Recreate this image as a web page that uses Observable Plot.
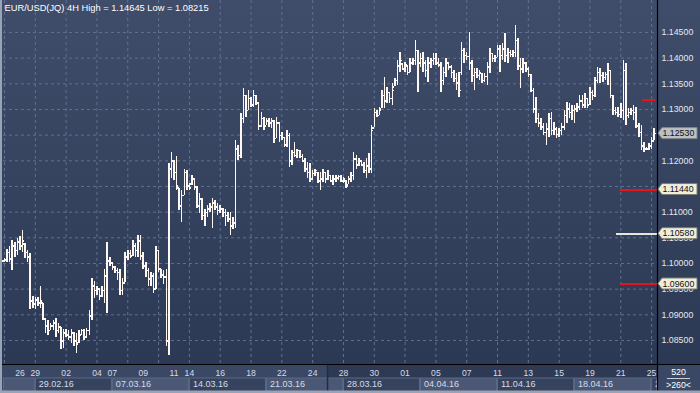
<!DOCTYPE html>
<html><head><meta charset="utf-8">
<script src="https://cdn.jsdelivr.net/npm/d3@7"></script>
<script src="https://cdn.jsdelivr.net/npm/@observablehq/plot@0.6"></script>
<style>
html,body{margin:0;padding:0;background:#2f3b55;}
#chart{width:700px;height:393px;overflow:hidden;}
svg{display:block;}
</style></head><body><div id="chart"></div>
<script>
// ---- data: EUR/USD 4H bars (bar index 0..253) ----
const high = [
1.1009,1.1028,1.1034,1.1044,1.1040,1.1048,1.1052,1.1064,1.1038,1.1025,
1.1019,1.0935,1.0933,1.0933,1.0956,1.0923,1.0892,1.0888,1.0884,1.0888,
1.0892,1.0884,1.0876,1.0872,1.0872,1.0869,1.0872,1.0865,1.0863,1.0869,
1.0872,1.0872,1.0874,1.0908,1.0970,1.0964,1.0956,1.0952,1.0956,1.0989,
1.1040,1.1011,1.1001,1.0995,1.0991,1.0989,1.0970,1.1021,1.1025,1.1025,
1.1044,1.1038,1.1054,1.1054,1.1021,1.1001,1.0991,1.0982,1.0980,1.1034,
1.1025,1.0989,1.0986,1.0989,1.1194,1.1216,1.1200,1.1208,1.1147,1.1142,
1.1184,1.1181,1.1155,1.1171,1.1165,1.1149,1.1136,1.1126,1.1106,1.1112,
1.1116,1.1126,1.1122,1.1116,1.1112,1.1108,1.1106,1.1099,1.1099,1.1089,
1.1239,1.1229,1.1292,1.1340,1.1327,1.1337,1.1323,1.1337,1.1327,1.1313,
1.1294,1.1284,1.1282,1.1282,1.1282,1.1278,1.1284,1.1274,1.1255,1.1245,
1.1259,1.1253,1.1220,1.1235,1.1223,1.1220,1.1212,1.1204,1.1196,1.1194,
1.1181,1.1184,1.1177,1.1177,1.1184,1.1177,1.1181,1.1171,1.1171,1.1171,
1.1171,1.1171,1.1167,1.1161,1.1169,1.1177,1.1216,1.1210,1.1204,1.1200,
1.1196,1.1204,1.1214,1.1268,1.1301,1.1298,1.1303,1.1337,1.1362,1.1342,
1.1333,1.1350,1.1360,1.1395,1.1411,1.1389,1.1391,1.1385,1.1399,1.1399,
1.1434,1.1415,1.1409,1.1411,1.1395,1.1401,1.1399,1.1409,1.1409,1.1399,
1.1391,1.1381,1.1399,1.1391,1.1385,1.1376,1.1370,1.1372,1.1430,1.1418,
1.1411,1.1450,1.1395,1.1379,1.1379,1.1376,1.1370,1.1370,1.1391,1.1418,
1.1409,1.1405,1.1424,1.1424,1.1428,1.1448,1.1418,1.1415,1.1415,1.14645,
1.1438,1.1399,1.1399,1.1391,1.1381,1.1368,1.1340,1.1323,1.1292,1.1282,
1.1272,1.1272,1.1292,1.1294,1.1274,1.1264,1.1262,1.1272,1.1298,1.1313,
1.1311,1.1307,1.1307,1.1311,1.1327,1.1327,1.1331,1.1321,1.1342,1.1337,
1.1362,1.1381,1.1379,1.1372,1.1372,1.1389,1.1376,1.1327,1.1303,1.1303,
1.1311,1.1395,1.1389,1.1301,1.1301,1.1307,1.1303,1.1272,1.1268,1.1235,
1.1225,1.1233,1.1245,1.1262];
const low = [
1.1001,1.1001,1.1001,1.0986,1.1011,1.1015,1.1025,1.1021,1.1009,1.1001,
1.0911,1.0913,1.0911,1.0917,1.0913,1.0888,1.0863,1.0859,1.0869,1.0869,
1.0855,1.0863,1.0833,1.0835,1.0855,1.0849,1.0845,1.0839,1.0824,1.0845,
1.0859,1.0849,1.0853,1.0859,1.0888,1.0931,1.0937,1.0927,1.0933,1.0923,
1.0902,1.0995,1.0986,1.0980,1.0966,1.0937,1.0937,1.0962,1.1005,1.1009,
1.1013,1.1011,1.1011,1.1005,1.0989,1.0972,1.0956,1.0956,1.0941,1.0950,
1.0982,1.0970,1.0960,1.0839,1.08215,1.1165,1.1161,1.1142,1.1103,1.1079,
1.1132,1.1142,1.1142,1.1151,1.1142,1.1108,1.1097,1.1083,1.1073,1.1089,
1.1099,1.1069,1.1103,1.1093,1.1097,1.1089,1.1073,1.1079,1.1054,1.1067,
1.1069,1.1200,1.1204,1.1272,1.1284,1.1298,1.1303,1.1303,1.1307,1.1259,
1.1264,1.1259,1.1268,1.1264,1.1262,1.1233,1.1243,1.1235,1.1239,1.1225,
1.1225,1.1186,1.1190,1.1206,1.1204,1.1204,1.1196,1.1177,1.1165,1.1157,
1.1161,1.1169,1.1155,1.1142,1.1157,1.1155,1.1161,1.1157,1.1151,1.1157,
1.1161,1.1157,1.1155,1.1147,1.1153,1.1157,1.1161,1.1184,1.1188,1.1188,
1.1175,1.1165,1.1175,1.1175,1.1264,1.1284,1.1288,1.1301,1.1301,1.1311,
1.1311,1.1307,1.1344,1.1346,1.1372,1.1376,1.1372,1.1366,1.1372,1.1385,
1.1385,1.1333,1.1381,1.1372,1.1362,1.1352,1.1379,1.1385,1.1385,1.1381,
1.1333,1.1346,1.1362,1.1376,1.1360,1.1352,1.1337,1.1323,1.1366,1.1389,
1.1395,1.1376,1.1352,1.1337,1.1360,1.1356,1.1350,1.1352,1.1346,1.1370,
1.1391,1.1391,1.1401,1.1372,1.1395,1.1391,1.1389,1.1401,1.1401,1.1401,
1.1376,1.1340,1.1370,1.1372,1.1362,1.1333,1.1292,1.1272,1.1264,1.1259,
1.1249,1.1229,1.1245,1.1249,1.1249,1.1243,1.1245,1.1249,1.1259,1.1272,
1.1282,1.1278,1.1272,1.1294,1.1298,1.1301,1.1301,1.1301,1.1307,1.1317,
1.1323,1.1350,1.1350,1.1352,1.1356,1.1346,1.1321,1.1288,1.1288,1.1284,
1.1282,1.1278,1.1268,1.1282,1.1288,1.1278,1.1262,1.1245,1.1220,1.1216,
1.1220,1.1220,1.1223,1.1239];
const open = [
1.1005,1.1007,1.1021,1.1009,1.1034,1.1025,1.1042,1.1034,1.1038,1.1021,
1.1013,1.0927,1.0921,1.0929,1.0923,1.0923,1.0892,1.0878,1.0869,1.0878,
1.0884,1.0869,1.0876,1.0849,1.0865,1.0861,1.0857,1.0865,1.0849,1.0845,
1.0861,1.0869,1.0857,1.0869,1.0898,1.0956,1.0947,1.0950,1.0937,1.0947,
1.0976,1.1005,1.1001,1.0993,1.0986,1.0982,1.0947,1.0962,1.1013,1.1019,
1.1015,1.1034,1.1025,1.1044,1.1015,1.0995,1.0986,1.0970,1.0976,1.0950,
1.1025,1.0989,1.0978,1.0974,1.0849,1.1184,1.1200,1.1177,1.1147,1.1112,
1.1132,1.1177,1.1151,1.1155,1.1165,1.1149,1.1112,1.1126,1.1093,1.1099,
1.1106,1.1110,1.1118,1.1110,1.1103,1.1106,1.1099,1.1093,1.1087,1.1073,
1.1079,1.1223,1.1210,1.1282,1.1327,1.1298,1.1321,1.1309,1.1327,1.1313,
1.1268,1.1282,1.1268,1.1278,1.1274,1.1278,1.1243,1.1274,1.1249,1.1245,
1.1231,1.1249,1.1200,1.1216,1.1210,1.1220,1.1208,1.1200,1.1184,1.1177,
1.1165,1.1175,1.1177,1.1161,1.1165,1.1177,1.1165,1.1171,1.1161,1.1165,
1.1167,1.1169,1.1161,1.1161,1.1153,1.1165,1.1171,1.1204,1.1192,1.1200,
1.1192,1.1181,1.1190,1.1184,1.1264,1.1294,1.1288,1.1301,1.1327,1.1317,
1.1333,1.1321,1.1344,1.1356,1.1385,1.1389,1.1379,1.1385,1.1372,1.1391,
1.1395,1.1415,1.1391,1.1399,1.1391,1.1376,1.1391,1.1395,1.1399,1.1391,
1.1387,1.1356,1.1372,1.1391,1.1383,1.1372,1.1360,1.1352,1.1372,1.1415,
1.1405,1.1403,1.1391,1.1366,1.1372,1.1366,1.1370,1.1356,1.1364,1.1383,
1.1409,1.1399,1.1401,1.1418,1.1405,1.1418,1.1405,1.1411,1.1407,1.1411,
1.1434,1.1385,1.1379,1.1391,1.1379,1.1368,1.1337,1.1301,1.1282,1.1274,
1.1266,1.1255,1.1262,1.1282,1.1259,1.1262,1.1251,1.1259,1.1266,1.1288,
1.1301,1.1294,1.1298,1.1301,1.1305,1.1317,1.1309,1.1321,1.1309,1.1333,
1.1327,1.1356,1.1372,1.1366,1.1362,1.1368,1.1376,1.1327,1.1298,1.1294,
1.1290,1.1298,1.1376,1.1288,1.1294,1.1298,1.1294,1.1268,1.1255,1.1229,
1.1223,1.1223,1.1229,1.1239];
const close = [
1.1007,1.1021,1.1009,1.1034,1.1025,1.1042,1.1034,1.1044,1.1021,1.1013,
1.0927,1.0921,1.0929,1.0923,1.0927,1.0892,1.0878,1.0869,1.0878,1.0884,
1.0869,1.0876,1.0849,1.0865,1.0861,1.0857,1.0865,1.0849,1.0843,1.0861,
1.0869,1.0857,1.0869,1.0898,1.0956,1.0947,1.0950,1.0937,1.0947,1.0976,
1.1005,1.1001,1.0993,1.0986,1.0982,1.0947,1.0962,1.1013,1.1019,1.1015,
1.1034,1.1025,1.1044,1.1015,1.0995,1.0986,1.0970,1.0976,1.0950,1.1025,
1.0989,1.0978,1.0974,1.0849,1.1184,1.1200,1.1177,1.1151,1.1112,1.1132,
1.1177,1.1151,1.1147,1.1165,1.1149,1.1112,1.1126,1.1093,1.1099,1.1106,
1.1110,1.1118,1.1110,1.1103,1.1106,1.1099,1.1093,1.1087,1.1073,1.1079,
1.1223,1.1210,1.1282,1.1327,1.1298,1.1321,1.1309,1.1327,1.1313,1.1268,
1.1282,1.1268,1.1278,1.1274,1.1278,1.1243,1.1274,1.1249,1.1245,1.1231,
1.1249,1.1200,1.1216,1.1210,1.1220,1.1208,1.1200,1.1184,1.1177,1.1165,
1.1175,1.1181,1.1161,1.1165,1.1177,1.1165,1.1171,1.1161,1.1165,1.1167,
1.1169,1.1161,1.1165,1.1151,1.1165,1.1171,1.1204,1.1192,1.1200,1.1192,
1.1181,1.1190,1.1184,1.1259,1.1294,1.1288,1.1298,1.1327,1.1317,1.1333,
1.1321,1.1337,1.1356,1.1385,1.1395,1.1379,1.1387,1.1372,1.1391,1.1395,
1.1415,1.1391,1.1399,1.1391,1.1376,1.1391,1.1395,1.1399,1.1391,1.1387,
1.1356,1.1372,1.1391,1.1383,1.1372,1.1360,1.1352,1.1337,1.1415,1.1405,
1.1403,1.1391,1.1366,1.1372,1.1366,1.1372,1.1356,1.1364,1.1383,1.1411,
1.1399,1.1401,1.1418,1.1405,1.1418,1.1405,1.1411,1.1407,1.1411,1.1434,
1.1385,1.1379,1.1391,1.1379,1.1368,1.1337,1.1301,1.1282,1.1274,1.1266,
1.1255,1.1262,1.1282,1.1259,1.1262,1.1251,1.1259,1.1266,1.1288,1.1301,
1.1294,1.1298,1.1301,1.1305,1.1317,1.1309,1.1321,1.1309,1.1333,1.1327,
1.1356,1.1372,1.1366,1.1362,1.1368,1.1376,1.1327,1.1298,1.1294,1.1290,
1.1298,1.1376,1.1288,1.1294,1.1298,1.1294,1.1268,1.1255,1.1229,1.1223,
1.1223,1.1229,1.1239,1.1253];

// ---- axis ticks & labels ----
const symbolText = "EUR/USD(JQ) 4H";
const priceTicks = [1.085,1.090,1.095,1.100,1.105,1.110,1.115,1.120,1.125,1.130,1.135,1.140,1.145];
const dayTickBars = [6,12,24,36,42,54,66,72,84,96,108,120,132,144,156,168,180,192,204,216,228,240,252];
const dayTickLabels = ["26","29","02","04","07","09","11","14","16","18","22","24","28","30","01","05","07","11","13","15","19","21","25"];
const gridBars = [0,12,24,36,48,60,72,84,96,108,120,132,144,156,168,180,192,204,216,228,240,252];
const weekStartBars = [-6,12,42,72,102,132,162,192,222,252];
const weekLabels = ["","29.02.16","07.03.16","14.03.16","21.03.16","28.03.16","04.04.16","11.04.16","18.04.16","25.04.16"];
const shadeFromBar = 125.8;
const barsCount = "520";
const zoomText = ">260<";

// ---- price levels on the right ----
const levelPrices = [1.1319, 1.1144, 1.1058, 1.0960];
const levelStart = [248.3, 239.7, 238.5, 239.7];
const levelEnd = [253.5, 254.3, 254.3, 254.3];
const levelColors = ["#e8141c", "#e8141c", "#e8e6dc", "#e8141c"];
const levelLabels = [null, "1.11440", "1.10580", "1.09600"];

// ---- build ----
const W = 700, H = 393, mL = 3, mR = 43, mT = 0, mB = 29;
const xDomain = [-0.4, 254.3];
const yDomain = [1.08032, 1.15123];
const bars = high.map((h, i) => ({i, high: h, low: low[i], open: open[i], close: close[i]}));
const levels = levelPrices.map((p, k) => ({price: p, start: levelStart[k], end: levelEnd[k], color: levelColors[k]}));
const days = dayTickBars.map((b, k) => ({i: b, label: dayTickLabels[k]}));
const weeks = weekStartBars.map((b, k) => ({i: b, label: weekLabels[k]}));
const title = `${symbolText} High = ${d3.max(high).toFixed(5)} Low = ${d3.min(low).toFixed(5)}`;
const lastClose = close[close.length - 1];
const tagPrices = [lastClose, ...levelPrices.filter((p, k) => levelLabels[k])];
const barColor = "#fff8f2";
const font = "'Liberation Sans', Arial, sans-serif";
// axis labels fully covered by a price tag are not shown (as in the reference)
const tickFmt = d => tagPrices.some(p => Math.abs(p - d) < 0.0007) ? "" : d.toFixed(5);

const plot = Plot.plot({
  width: W, height: H,
  marginLeft: mL, marginRight: mR, marginTop: mT, marginBottom: mB,
  style: {background: "transparent", color: "#e4e8ee", fontFamily: font, fontSize: "8.8px", overflow: "visible"},
  x: {domain: xDomain, axis: null},
  y: {domain: yDomain, axis: "right", ticks: priceTicks, tickFormat: tickFmt, tickSize: 0, tickPadding: 4, label: null},
  color: {type: "identity"},
  marks: [
    Plot.gridY(priceTicks, {stroke: "#5f7091", strokeOpacity: 1, strokeDasharray: "3,3"}),
    Plot.gridX(gridBars, {stroke: "#5f7091", strokeOpacity: 1, strokeDasharray: "3,3"}),
    Plot.ruleX(bars, {x: "i", y1: "low", y2: "high", stroke: barColor, strokeWidth: 1.5, shapeRendering: "crispEdges"}),
    Plot.ruleY(bars, {y: "open", x1: d => d.i - 0.8, x2: "i", stroke: barColor, strokeWidth: 1.5, shapeRendering: "crispEdges"}),
    Plot.ruleY(bars, {y: "close", x1: "i", x2: d => d.i + 0.8, stroke: barColor, strokeWidth: 1.5, shapeRendering: "crispEdges"}),
    Plot.ruleY(levels, {y: "price", x1: "start", x2: "end", stroke: "color", strokeWidth: 2, shapeRendering: "crispEdges"}),
    Plot.text([title], {frameAnchor: "top-left", dx: 1, dy: 7.5, lineAnchor: "middle", textAnchor: "start", fill: "#ffffff", fontSize: 9.3, text: d => d}),
    Plot.text(days, {x: "i", text: "label", frameAnchor: "bottom", dy: 8.5, lineAnchor: "middle", fill: "#d6dce6", fontSize: 8.6}),
    Plot.text(weeks, {x: "i", text: "label", frameAnchor: "bottom", dy: 19.8, dx: 3.5, lineAnchor: "middle", textAnchor: "start", fill: "#d6dce6", fontSize: 9, ariaLabel: "week-labels"})
  ]
});
document.getElementById("chart").appendChild(plot);

// ---- decorations placed with the plot's own scales ----
const svg = d3.select(plot);
const sx = plot.scale("x"), sy = plot.scale("y");
const X = v => sx.apply(v), Y = v => sy.apply(v);
const leftPx = X(xDomain[0]), rightPx = X(xDomain[1]), axisTop = Y(yDomain[0]);

const bg = svg.insert("g", ":first-child");
const defs = bg.append("defs");
const grad = defs.append("linearGradient").attr("id", "bgGrad").attr("x1", 0).attr("y1", 0).attr("x2", 0).attr("y2", 1);
grad.append("stop").attr("offset", "0%").attr("stop-color", "#3f4d6a");
grad.append("stop").attr("offset", "100%").attr("stop-color", "#2c3954");
defs.append("clipPath").attr("id", "weekClip").append("rect").attr("x", 0).attr("y", 0).attr("width", rightPx).attr("height", H);
svg.selectAll('g[aria-label="week-labels"]').attr("clip-path", "url(#weekClip)");

bg.append("rect").attr("x", 0).attr("y", 0).attr("width", W).attr("height", axisTop).attr("fill", "url(#bgGrad)");
bg.append("rect").attr("x", 0).attr("y", axisTop).attr("width", W).attr("height", H - axisTop).attr("fill", "#2e3a53");
bg.append("rect").attr("x", 0).attr("y", axisTop).attr("width", X(shadeFromBar)).attr("height", H - axisTop).attr("fill", "#3a4865");
const rowTop = axisTop + 13.5, rowH = 13.5;
weeks.forEach((w, k) => {
  const x0 = Math.max(leftPx, X(w.i));
  const x1 = k + 1 < weeks.length ? X(weeks[k + 1].i) : rightPx;
  bg.append("rect").attr("x", x0 + 0.5).attr("y", rowTop + 0.5).attr("width", Math.max(0, x1 - x0 - 1)).attr("height", rowH)
    .attr("fill", k % 2 === 0 ? "#4a5876" : "#36435f").attr("stroke", "#5b6984").attr("stroke-width", 1);
});
bg.append("line").attr("x1", X(shadeFromBar) + 0.5).attr("x2", X(shadeFromBar) + 0.5).attr("y1", axisTop).attr("y2", H).attr("stroke", "#222c40").attr("stroke-width", 1.5);

const overlay = svg.append("g").attr("text-anchor", "start");
// bottom-right box
overlay.append("rect").attr("x", rightPx).attr("y", axisTop).attr("width", W - rightPx).attr("height", H - axisTop).attr("fill", "#3a4865");
overlay.append("text").attr("x", (rightPx + W) / 2).attr("y", axisTop + 8).attr("dy", "0.35em").attr("text-anchor", "middle")
  .attr("fill", "#ffffff").style("font", `8.8px ${font}`).text(barsCount);
overlay.append("line").attr("x1", rightPx + 10).attr("x2", W - 10).attr("y1", axisTop + 14.5).attr("y2", axisTop + 14.5).attr("stroke", "#c8d0dc");
overlay.append("text").attr("x", (rightPx + W) / 2).attr("y", axisTop + 21).attr("dy", "0.35em").attr("text-anchor", "middle")
  .attr("fill", "#ffffff").style("font", `8.8px ${font}`).text(zoomText);
// frame lines
overlay.append("line").attr("x1", 0).attr("x2", W).attr("y1", axisTop + 0.5).attr("y2", axisTop + 0.5).attr("stroke", "#000").attr("stroke-width", 1.2);
overlay.append("line").attr("x1", rightPx + 0.5).attr("x2", rightPx + 0.5).attr("y1", 0).attr("y2", H).attr("stroke", "#000").attr("stroke-width", 1.2);
overlay.append("rect").attr("x", 0).attr("y", 0).attr("width", 2).attr("height", H).attr("fill", "#9aa3b5");
overlay.append("rect").attr("x", 0).attr("y", H - 2.5).attr("width", W).attr("height", 2.5).attr("fill", "#9aa3b5");

// price label boxes
function priceTag(price, label, fill, stroke) {
  const yy = Y(price);
  overlay.append("path")
    .attr("d", `M${rightPx + 1},${yy} L${rightPx + 5},${yy - 5.5} H${W - 3} V${yy + 5.5} H${rightPx + 5} Z`)
    .attr("fill", fill).attr("stroke", stroke).attr("stroke-width", 1);
  overlay.append("text").attr("x", rightPx + 5.5).attr("y", yy).attr("dy", "0.35em").attr("text-anchor", "start")
    .attr("fill", "#111").style("font", `8.8px ${font}`).text(label);
}
levels.forEach((l, k) => { if (levelLabels[k]) priceTag(l.price, levelLabels[k], "#efeedc", "#7c7c70"); });
priceTag(lastClose, lastClose.toFixed(5), "#bcc0c5", "#80868e");
</script></body></html>
